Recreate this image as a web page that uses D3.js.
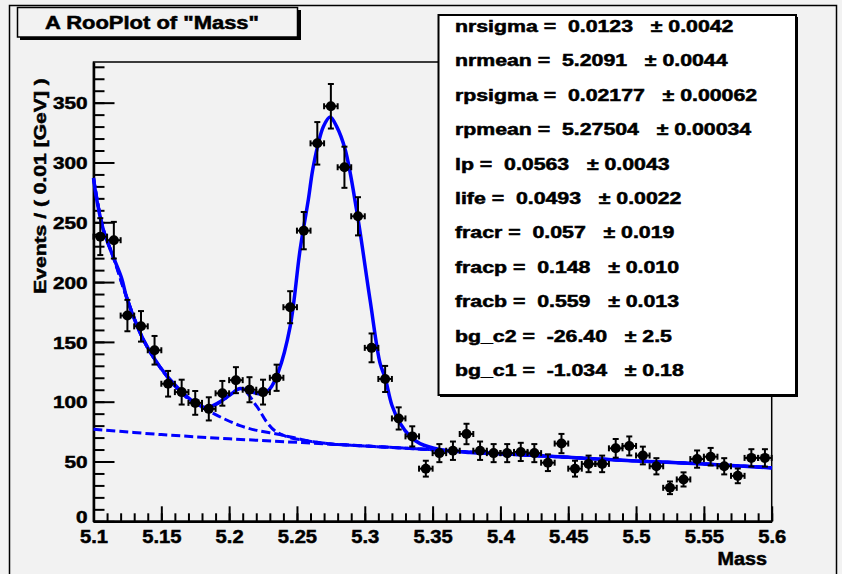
<!DOCTYPE html>
<html>
<head>
<meta charset="utf-8">
<script src="https://cdn.jsdelivr.net/npm/d3@7"></script>
<style>
  body { margin: 0; background: #f2f2f2; }
  text { font-family: "Liberation Sans", Arial, sans-serif; font-weight: bold; fill: #000; stroke: #000; stroke-width: 0.5; }
</style>
</head>
<body>
<div id="chart"></div>
<script>
// bin centres (0.01 GeV bins) and event counts
const binCenters = [5.105, 5.115, 5.125, 5.135, 5.145, 5.155, 5.165, 5.175, 5.185, 5.195,
  5.205, 5.215, 5.225, 5.235, 5.245, 5.255, 5.265, 5.275, 5.285, 5.295,
  5.305, 5.315, 5.325, 5.335, 5.345, 5.355, 5.365, 5.375, 5.385, 5.395,
  5.405, 5.415, 5.425, 5.435, 5.445, 5.455, 5.465, 5.475, 5.485, 5.495,
  5.505, 5.515, 5.525, 5.535, 5.545, 5.555, 5.565, 5.575, 5.585, 5.595];
const counts = [238, 235, 172, 163, 143, 115, 108, 99, 94, 107,
  118, 110, 108, 120, 179, 243, 316, 347, 296, 255,
  145, 119, 86, 71, 44, 57, 59, 73, 59, 57,
  57, 58, 57, 49, 65, 44, 48, 48, 61, 63,
  55, 46, 28, 35, 52, 54, 46, 38, 53, 53];

// total fit curve (solid)
const fitMass = [5.100, 5.1024, 5.1072, 5.1146, 5.1208, 5.1245, 5.1367, 5.149, 5.1626, 5.1736,
  5.183, 5.1933, 5.201, 5.208, 5.2167, 5.2252, 5.2302, 5.2363, 5.245, 5.2523,
  5.2584, 5.2621, 5.2695, 5.2744, 5.2793, 5.2855, 5.294, 5.3039, 5.3113, 5.315,
  5.32, 5.326, 5.3334, 5.3408, 5.3555, 5.3776, 5.40, 5.45, 5.50, 5.55, 5.60];
const fitTotal = [287, 269, 244, 221, 203, 187, 152, 129, 111, 100,
  95, 100, 106, 111, 108, 106.5, 111, 125, 163, 227,
  269, 297, 330, 338, 330, 311, 260, 185, 132, 120,
  97, 82, 71, 65, 60, 57.5, 56.5, 53.5, 50.5, 48, 44.6];

// background + exponential + nr peak (dashed)
const compAMass = [5.100, 5.1072, 5.1146, 5.1245, 5.1367, 5.149, 5.1626, 5.1736, 5.1836, 5.1933,
  5.201, 5.209, 5.2204, 5.2277, 5.2339, 5.2425, 5.2573, 5.2768, 5.30, 5.35,
  5.40, 5.45, 5.50, 5.55, 5.60];
const compA = [287, 244, 221, 187, 152, 129, 110, 100, 95, 99.5,
  106, 111, 96, 83, 75.5, 70.8, 67.3, 64.5, 63, 59.8,
  56.5, 53.5, 50.5, 48, 44.8];

// background + exponential (dashed)
const compBMass = [5.100, 5.1072, 5.1146, 5.1245, 5.1367, 5.149, 5.1626, 5.1736, 5.1836, 5.1957,
  5.208, 5.2204, 5.235, 5.2473, 5.262, 5.2768, 5.30, 5.35, 5.40, 5.45,
  5.50, 5.55, 5.60];
const compB = [287, 244, 221, 187, 152, 129, 110, 99, 93, 86,
  80, 76, 73, 70, 66.5, 64.5, 63, 59.8, 56.5, 53.5,
  50.5, 48, 44.8];

// flat background only (dashed)
const bkgMass = [5.10, 5.15, 5.20, 5.25, 5.30, 5.35, 5.40, 5.45, 5.50, 5.55, 5.60];
const bkgOnly = [77, 72.5, 69, 66, 63, 59.8, 56.5, 53.5, 50.5, 48, 44.8];

const xTicks = [5.1, 5.15, 5.2, 5.25, 5.3, 5.35, 5.4, 5.45, 5.5, 5.55, 5.6];
const xTickLabels = ["5.1", "5.15", "5.2", "5.25", "5.3", "5.35", "5.4", "5.45", "5.5", "5.55", "5.6"];
const yTicks = [0, 50, 100, 150, 200, 250, 300, 350];

const paramNames = ["nrsigma", "nrmean", "rpsigma", "rpmean", "lp", "life", "fracr", "fracp", "fracb", "bg_c2", "bg_c1"];
const paramValues = ["0.0123", "5.2091", "0.02177", "5.27504", "0.0563", "0.0493", "0.057", "0.148", "0.559", "-26.40", "-1.034"];
const paramErrors = ["0.0042", "0.0044", "0.00062", "0.00034", "0.0043", "0.0022", "0.019", "0.010", "0.013", "2.5", "0.18"];

const W = 842, H = 574;
const frame = { left: 93.5, right: 771.7, top: 62, bottom: 521.3 };
const blue = "#0000ff";

// ROOT's bitmap helvetica is wider than Liberation Sans, stretch texts a bit
function stretch(sel, f) {
  sel.each(function() {
    const len = this.getComputedTextLength();
    d3.select(this).attr("textLength", len * f).attr("lengthAdjust", "spacingAndGlyphs");
  });
}

const svg = d3.select("#chart").append("svg")
  .attr("width", W).attr("height", H);

// canvas border
svg.append("rect")
  .attr("x", 9.5).attr("y", 5.5).attr("width", 827).attr("height", 580)
  .attr("fill", "#f2f2f2").attr("stroke", "#000").attr("stroke-width", 1.5);

const xScale = d3.scaleLinear().domain([5.1, 5.6]).range([frame.left, frame.right]);
const yScale = d3.scaleLinear().domain([0, 384]).range([frame.bottom, frame.top]);

// frame
svg.append("rect")
  .attr("x", frame.left).attr("y", frame.top)
  .attr("width", frame.right - frame.left).attr("height", frame.bottom - frame.top)
  .attr("fill", "none").attr("stroke", "#000").attr("stroke-width", 1.5);

// minor ticks
svg.append("g")
  .attr("transform", "translate(" + frame.left + ",0)")
  .call(d3.axisLeft(yScale).tickValues(d3.range(0, 381, 10)).tickSizeInner(-11).tickSizeOuter(0).tickFormat(""))
  .call(g => g.select(".domain").remove())
  .call(g => g.selectAll("line").attr("stroke-width", 2));
svg.append("g")
  .attr("transform", "translate(0," + frame.bottom + ")")
  .call(d3.axisBottom(xScale).tickValues(d3.range(0, 51).map(i => 5.1 + i * 0.01)).tickSizeInner(-8).tickSizeOuter(0).tickFormat(""))
  .call(g => g.select(".domain").remove())
  .call(g => g.selectAll("line").attr("stroke-width", 2));

// major ticks + labels
const yAxis = svg.append("g")
  .attr("transform", "translate(" + frame.left + ",0)")
  .call(d3.axisLeft(yScale).tickValues(yTicks).tickSizeInner(-21).tickSizeOuter(0).tickPadding(6))
  .call(g => g.select(".domain").attr("stroke-width", 2.5))
  .call(g => g.selectAll("line").attr("stroke-width", 2));
yAxis.selectAll("text").attr("font-size", 17).attr("font-family", null).attr("fill", null)
  .attr("dy", d => d === 0 ? "0.08em" : "0.36em");
stretch(yAxis.selectAll("text"), 1.22);

const xAxis = svg.append("g")
  .attr("transform", "translate(0," + frame.bottom + ")")
  .call(d3.axisBottom(xScale).tickValues(xTicks).tickSizeInner(-15).tickSizeOuter(0).tickPadding(9)
    .tickFormat((d, i) => xTickLabels[i]))
  .call(g => g.select(".domain").attr("stroke-width", 2.5))
  .call(g => g.selectAll("line").attr("stroke-width", 2));
xAxis.selectAll("text").attr("font-size", 18).attr("font-family", null).attr("fill", null);
stretch(xAxis.selectAll("text"), 1.12);

// axis titles
svg.append("text")
  .attr("x", 767).attr("y", 565)
  .attr("text-anchor", "end").attr("font-size", 18)
  .text("Mass")
  .call(t => stretch(t, 1.1));
svg.append("text")
  .attr("transform", "translate(46,186) rotate(-90)")
  .attr("text-anchor", "middle").attr("font-size", 17)
  .text("Events / ( 0.01 [GeV] )")
  .call(t => stretch(t, 1.24));

// curves
const line = (mass, vals) => d3.line()
  .x((d, i) => xScale(mass[i]))
  .y(d => yScale(d))
  .curve(d3.curveCatmullRom)(vals);

[[bkgMass, bkgOnly], [compBMass, compB], [compAMass, compA]].forEach(c => {
  svg.append("path")
    .attr("d", line(c[0], c[1]))
    .attr("fill", "none").attr("stroke", blue).attr("stroke-width", 3)
    .attr("stroke-dasharray", "9,4");
});
svg.append("path")
  .attr("d", line(fitMass, fitTotal))
  .attr("fill", "none").attr("stroke", blue).attr("stroke-width", 3.5);

// data points with poisson errors
const pts = svg.append("g").attr("stroke", "#000").attr("stroke-width", 2);
binCenters.forEach((c, i) => {
  const n = counts[i];
  const err = Math.sqrt(n);
  const cx = xScale(c), cy = yScale(n);
  const y1 = yScale(n + err), y2 = yScale(n - err);
  const x1 = xScale(c - 0.005), x2 = xScale(c + 0.005);
  pts.append("line").attr("x1", cx).attr("x2", cx).attr("y1", y1).attr("y2", y2);
  pts.append("line").attr("x1", cx - 3).attr("x2", cx + 3).attr("y1", y1).attr("y2", y1);
  pts.append("line").attr("x1", cx - 3).attr("x2", cx + 3).attr("y1", y2).attr("y2", y2);
  pts.append("line").attr("x1", x1).attr("x2", x2).attr("y1", cy).attr("y2", cy);
  pts.append("line").attr("x1", x1).attr("x2", x1).attr("y1", cy - 3).attr("y2", cy + 3);
  pts.append("line").attr("x1", x2).attr("x2", x2).attr("y1", cy - 3).attr("y2", cy + 3);
  pts.append("circle").attr("cx", cx).attr("cy", cy).attr("r", 5).attr("fill", "#000").attr("stroke", "none");
});

// title box
svg.append("rect").attr("x", 20).attr("y", 10).attr("width", 281).attr("height", 30).attr("fill", "#000");
svg.append("rect").attr("x", 17.5).attr("y", 7.5).attr("width", 280).attr("height", 29.5)
  .attr("fill", "#f2f2f2").attr("stroke", "#000").attr("stroke-width", 1.5);
svg.append("text")
  .attr("x", 152).attr("y", 29)
  .attr("text-anchor", "middle").attr("font-size", 18)
  .text('A RooPlot of "Mass"')
  .call(t => stretch(t, 1.22));

// parameter box
svg.append("rect").attr("x", 440).attr("y", 17).attr("width", 358).attr("height", 380).attr("fill", "#000");
svg.append("rect").attr("x", 438.5).attr("y", 15).attr("width", 357.5).attr("height", 380)
  .attr("fill", "#fff").attr("stroke", "#000").attr("stroke-width", 2);
const rows = svg.append("g");
paramNames.forEach((p, i) => {
  rows.append("text")
    .attr("x", 455).attr("y", 32 + 34.4 * i)
    .attr("font-size", 16)
    .style("white-space", "pre")
    .text(p + " =  " + paramValues[i] + "   \u00b1 " + paramErrors[i])
    .call(t => stretch(t, 1.33));
});
</script>
</body>
</html>
